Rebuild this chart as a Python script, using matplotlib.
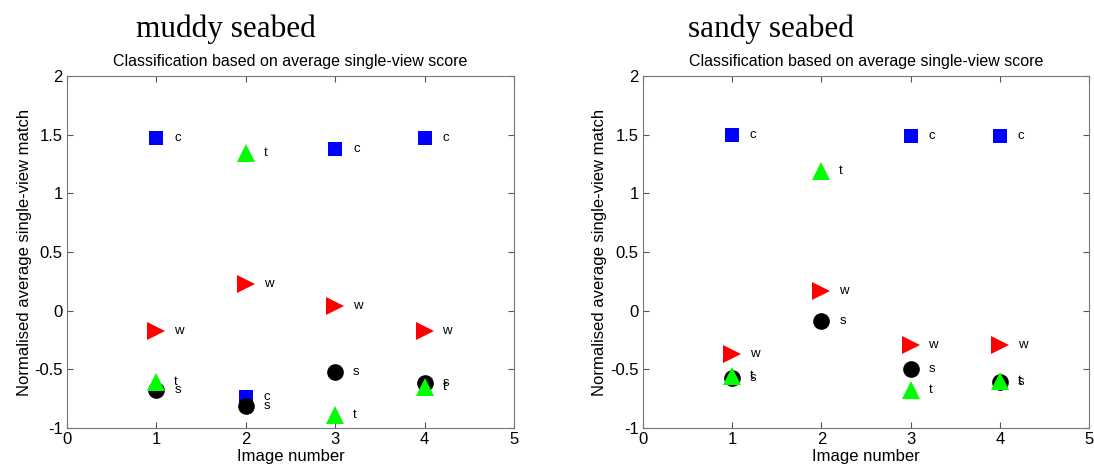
import numpy as np
import matplotlib.pyplot as plt

images = [1, 2, 3, 4]
classes = ["c", "t", "w", "s"]

# muddy seabed
muddy_c = [1.47, -0.74, 1.38, 1.47]
muddy_t = [-0.61, 1.34, -0.89, -0.65]
muddy_w = [-0.17, 0.23, 0.04, -0.17]
muddy_s = [-0.68, -0.81, -0.52, -0.62]

# sandy seabed (no 'c' point at image 2)
sandy_c = [1.50, np.nan, 1.49, 1.49]
sandy_t = [-0.56, 1.19, -0.68, -0.60]
sandy_w = [-0.37, 0.17, -0.29, -0.29]
sandy_s = [-0.57, -0.09, -0.50, -0.61]

styles = {
    "c": dict(marker="s", color="#0000ff", ms=10),
    "t": dict(marker="^", color="#00ff00", ms=13.5),
    "w": dict(marker=">", color="#ff0000", ms=13),
    "s": dict(marker="o", color="black", ms=12),
}
draw_order = ["c", "w", "s", "t"]

plt.rcParams["font.family"] = ["Liberation Sans", "DejaVu Sans"]

fig = plt.figure(figsize=(10.94, 4.68), dpi=100)
ax1 = fig.add_axes([0.0612, 0.0855, 0.4086, 0.7521])
ax2 = fig.add_axes([0.5877, 0.0855, 0.4077, 0.7521])

panels = [
    (ax1, "muddy seabed", {"c": muddy_c, "t": muddy_t, "w": muddy_w, "s": muddy_s}),
    (ax2, "sandy seabed", {"c": sandy_c, "t": sandy_t, "w": sandy_w, "s": sandy_s}),
]

for ax, name, data in panels:
    for k in draw_order:
        st = styles[k]
        ax.plot(images, data[k], linestyle="none", marker=st["marker"],
                color=st["color"], markersize=st["ms"], markeredgewidth=0)
        for x, y in zip(images, data[k]):
            if not np.isnan(y):
                ax.text(x + 0.2, y, k, fontsize=9.5, va="center", ha="left")
    ax.set_xlim(0, 5)
    ax.set_ylim(-1, 2)
    ax.set_xticks([0, 1, 2, 3, 4, 5])
    ax.set_yticks([-1, -0.5, 0, 0.5, 1, 1.5, 2])
    ax.set_yticklabels(["-1", "-0.5", "0", "0.5", "1", "1.5", "2"])
    ax.tick_params(direction="in", length=4, labelsize=12, top=True, right=True,
                   color="#555555", pad=3)
    for sp in ax.spines.values():
        sp.set_color("#777777")
        sp.set_linewidth(0.8)
    ax.set_xlabel("Image number", fontsize=12, labelpad=1)
    ax.set_ylabel("Normalised average single-view match", fontsize=12, labelpad=2)
    ax.set_title("Classification based on average single-view score", fontsize=11.5, pad=7)

fig.text(0.124, 0.922, "muddy seabed", family="Liberation Serif", fontsize=22.5)
fig.text(0.629, 0.922, "sandy seabed", family="Liberation Serif", fontsize=22.5)

fig.savefig("out.png", dpi=100)
